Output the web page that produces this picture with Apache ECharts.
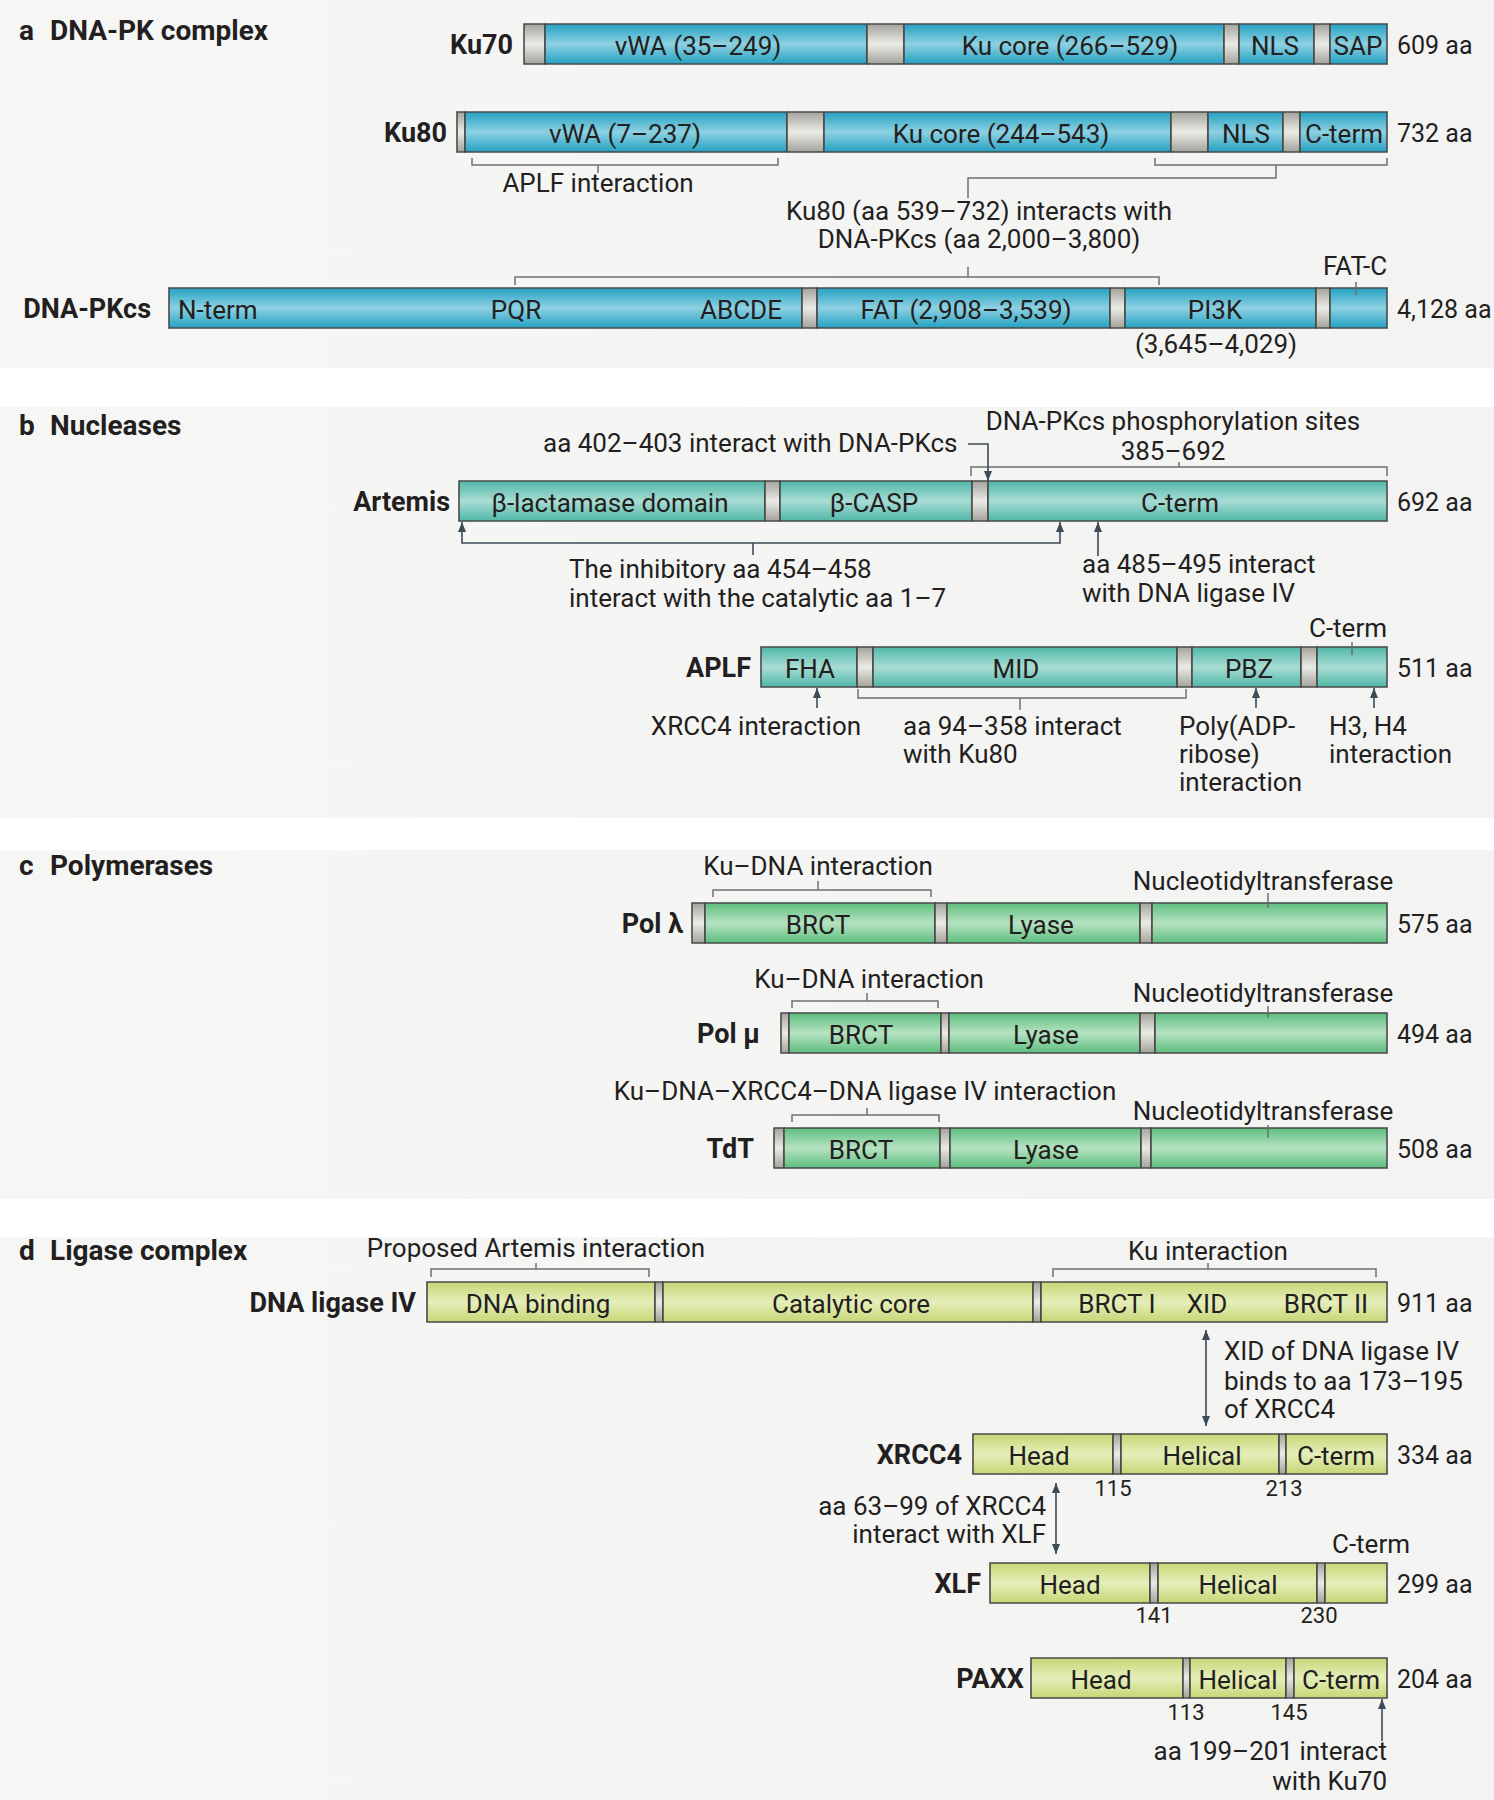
<!DOCTYPE html>
<html><head><meta charset="utf-8">
<script src="https://cdn.jsdelivr.net/npm/echarts@6/dist/echarts.min.js"></script>
<style>html,body{margin:0;padding:0;background:#fff}#c{width:1494px;height:1800px}</style>
</head><body><div id="c"></div>
<script>
// ---- Schematic units: x runs along the drawing, y down the page ----
const W = 1494, H = 1800;
const panelLetters = ['a', 'b', 'c', 'd'];
const panelTitles = ['DNA-PK complex', 'Nucleases', 'Polymerases', 'Ligase complex'];
const panelTitleBaseline = [40, 435, 875, 1260];
const panelBands = [[0, 368], [407, 818], [850, 1199], [1237, 1800]];

const proteinNames = ['Ku70', 'Ku80', 'DNA-PKcs', 'Artemis', 'APLF', 'Pol λ', 'Pol μ', 'TdT', 'DNA ligase IV', 'XRCC4', 'XLF', 'PAXX'];
const proteinLengths = ['609 aa', '732 aa', '4,128 aa', '692 aa', '511 aa', '575 aa', '494 aa', '508 aa', '911 aa', '334 aa', '299 aa', '204 aa'];
const rowFamily = ['ku', 'ku', 'ku', 'nuc', 'nuc', 'pol', 'pol', 'pol', 'lig', 'lig', 'lig', 'lig'];

// Domain boundaries along the schematic axis (L = linker, D = domain)
const segKu70 = [[524,545,'L'],[545,867,'D'],[867,904,'L'],[904,1224,'D'],[1224,1239,'L'],[1239,1314,'D'],[1314,1330,'L'],[1330,1387,'D']];
const segKu80 = [[457,465,'L'],[465,787,'D'],[787,824,'L'],[824,1171,'D'],[1171,1208,'L'],[1208,1283,'D'],[1283,1300,'L'],[1300,1387,'D']];
const segDNAPKcs = [[169,802,'D'],[802,817,'L'],[817,1110,'D'],[1110,1125,'L'],[1125,1316,'D'],[1316,1330,'L'],[1330,1387,'D']];
const segArtemis = [[459,765,'D'],[765,780,'L'],[780,972,'D'],[972,988,'L'],[988,1387,'D']];
const segAPLF = [[761,857,'D'],[857,873,'L'],[873,1177,'D'],[1177,1192,'L'],[1192,1301,'D'],[1301,1317,'L'],[1317,1387,'D']];
const segPolL = [[692,705,'L'],[705,935,'D'],[935,947,'L'],[947,1140,'D'],[1140,1152,'L'],[1152,1387,'D']];
const segPolM = [[781,789,'L'],[789,941,'D'],[941,949,'L'],[949,1140,'D'],[1140,1155,'L'],[1155,1387,'D']];
const segTdT = [[774,784,'L'],[784,940,'D'],[940,950,'L'],[950,1141,'D'],[1141,1151,'L'],[1151,1387,'D']];
const segLig4 = [[427,655,'D'],[655,663,'L'],[663,1033,'D'],[1033,1041,'L'],[1041,1387,'D']];
const segXRCC4 = [[973,1113,'D'],[1113,1121,'L'],[1121,1279,'D'],[1279,1286,'L'],[1286,1387,'D']];
const segXLF = [[990,1150,'D'],[1150,1158,'L'],[1158,1317,'D'],[1317,1325,'L'],[1325,1387,'D']];
const segPAXX = [[1031,1183,'D'],[1183,1190,'L'],[1190,1286,'D'],[1286,1294,'L'],[1294,1387,'D']];

// Domain labels
const lblKu70 = [[698,'vWA (35–249)'],[1070,'Ku core (266–529)'],[1275,'NLS'],[1358,'SAP']];
const lblKu80 = [[625,'vWA (7–237)'],[1001,'Ku core (244–543)'],[1246,'NLS'],[1344,'C-term']];
const lblDNAPKcs = [[178,'N-term','left'],[516,'PQR'],[741,'ABCDE'],[966,'FAT (2,908–3,539)'],[1215,'PI3K']];
const lblArtemis = [[610,'β-lactamase domain'],[874,'β-CASP'],[1180,'C-term']];
const lblAPLF = [[810,'FHA'],[1016,'MID'],[1249,'PBZ']];
const lblPolL = [[818,'BRCT'],[1041,'Lyase']];
const lblPolM = [[861,'BRCT'],[1046,'Lyase']];
const lblTdT = [[861,'BRCT'],[1046,'Lyase']];
const lblLig4 = [[538,'DNA binding'],[851,'Catalytic core'],[1117,'BRCT I'],[1207,'XID'],[1326,'BRCT II']];
const lblXRCC4 = [[1039,'Head'],[1202,'Helical'],[1336,'C-term']];
const lblXLF = [[1070,'Head'],[1238,'Helical']];
const lblPAXX = [[1101,'Head'],[1238,'Helical'],[1341,'C-term']];

// Annotation texts: [x, baseline, text, align, size]
const annotations = [
  [598,192,'APLF interaction','center','m'],
  [979,220,'Ku80 (aa 539–732) interacts with','center','m'],
  [979,248,'DNA-PKcs (aa 2,000–3,800)','center','m'],
  [1355,275,'FAT-C','center','m'],
  [1216,353,'(3,645–4,029)','center','m'],
  [1173,430,'DNA-PKcs phosphorylation sites','center','m'],
  [1173,460,'385–692','center','m'],
  [543,452,'aa 402–403 interact with DNA-PKcs','left','m'],
  [569,578,'The inhibitory aa 454–458','left','m'],
  [569,607,'interact with the catalytic aa 1–7','left','m'],
  [1082,573,'aa 485–495 interact','left','m'],
  [1082,602,'with DNA ligase IV','left','m'],
  [1348,637,'C-term','center','m'],
  [756,735,'XRCC4 interaction','center','m'],
  [903,735,'aa 94–358 interact','left','m'],
  [903,763,'with Ku80','left','m'],
  [1179,735,'Poly(ADP-','left','m'],
  [1179,763,'ribose)','left','m'],
  [1179,791,'interaction','left','m'],
  [1329,735,'H3, H4','left','m'],
  [1329,763,'interaction','left','m'],
  [818,875,'Ku–DNA interaction','center','m'],
  [1263,890,'Nucleotidyltransferase','center','m'],
  [869,988,'Ku–DNA interaction','center','m'],
  [1263,1002,'Nucleotidyltransferase','center','m'],
  [865,1100,'Ku–DNA–XRCC4–DNA ligase IV interaction','center','m'],
  [1263,1120,'Nucleotidyltransferase','center','m'],
  [536,1257,'Proposed Artemis interaction','center','m'],
  [1208,1260,'Ku interaction','center','m'],
  [1224,1360,'XID of DNA ligase IV','left','m'],
  [1224,1390,'binds to aa 173–195','left','m'],
  [1224,1418,'of XRCC4','left','m'],
  [1113,1496,'115','center','s'],
  [1284,1496,'213','center','s'],
  [1046,1515,'aa 63–99 of XRCC4','right','m'],
  [1046,1543,'interact with XLF','right','m'],
  [1371,1553,'C-term','center','m'],
  [1154,1623,'141','center','s'],
  [1319,1623,'230','center','s'],
  [1186,1720,'113','center','s'],
  [1289,1720,'145','center','s'],
  [1387,1760,'aa 199–201 interact','right','m'],
  [1387,1790,'with Ku70','right','m']
];

// Brackets (grey) and arrows (dark)
const bracketLines = [
  [[472,158],[472,165],[778,165],[778,158]], [[598,165],[598,173]],
  [[1155,158],[1155,165],[1387,165],[1387,158]], [[1276,165],[1276,178],[968,178],[968,198]],
  [[515,285],[515,277],[1159,277],[1159,285]], [[968,267],[968,277]],
  [[1356,282],[1356,295]],
  [[971,476],[971,467],[1387,467],[1387,476]], [[1179,467],[1179,462]],
  [[858,689],[858,698],[1186,698],[1186,689]], [[1020,698],[1020,710]],
  [[1352,642],[1352,655]],
  [[713,897],[713,890],[931,890],[931,897]], [[818,890],[818,881]], [[1268,893],[1268,908]],
  [[792,1008],[792,1001],[938,1001],[938,1008]], [[867,1001],[867,993]], [[1268,1006],[1268,1018]],
  [[792,1122],[792,1115],[939,1115],[939,1122]], [[867,1115],[867,1108]], [[1268,1125],[1268,1138]],
  [[431,1277],[431,1269],[649,1269],[649,1277]], [[536,1269],[536,1263]],
  [[1053,1277],[1053,1269],[1376,1269],[1376,1277]], [[1208,1269],[1208,1263]]
];
const arrowLines = [
  [[[968,444],[988,444],[988,481]],0,1],
  [[[462,522],[462,543],[1060,543],[1060,522]],1,1],
  [[[753,543],[753,555]],0,0],
  [[[1098,556],[1098,522]],0,1],
  [[[817,708],[817,688]],0,1],
  [[[1256,708],[1256,688]],0,1],
  [[[1374,708],[1374,688]],0,1],
  [[[1206,1330],[1206,1426]],1,1],
  [[[1056,1483],[1056,1554]],1,1],
  [[[1382,1741],[1382,1699]],0,1]
];

// ---- layout (not data) ----
const rowTop = [24,112,288,481,647,903,1013,1128,1282,1434,1563,1658];
const rowH = 40;
const nameRight = [513,447,151,450,751,683,760,754,416,962,981,1024];
const lengthLeft = 1397;
const proteinSegments = [segKu70,segKu80,segDNAPKcs,segArtemis,segAPLF,segPolL,segPolM,segTdT,segLig4,segXRCC4,segXLF,segPAXX];
const proteinLabels = [lblKu70,lblKu80,lblDNAPKcs,lblArtemis,lblAPLF,lblPolL,lblPolM,lblTdT,lblLig4,lblXRCC4,lblXLF,lblPAXX];

const FAM = 'Roboto, "Noto Sans", "DejaVu Sans", sans-serif';
const fsize = {t: 28, n: 27, m: 26, l: 25, s: 22};
const fonts = {t: 'bold 28px ' + FAM, n: 'bold 27px ' + FAM, m: '26px ' + FAM, l: '25px ' + FAM, s: '22px ' + FAM};
const familyColors = {ku: ['#23a1c2', '#8ed1e2'], nuc: ['#4fb7a7', '#a9dcd4'], pol: ['#5dbe7e', '#b6e2c2'], lig: ['#c7d674', '#e6eebb']};
const linkerColors = ['#a3a39c', '#ebebe5'];
const TEXT = '#231f20';

// bars data
const barData = [];
proteinSegments.forEach((segs, r) => segs.forEach(s => barData.push([s[0], s[1], r, s[2] === 'L' ? 1 : 0])));

// texts
const texts = []; // [x, yMid, text, align, fontKey]
const mid = (bl, k) => bl - 0.34 * fsize[k];
panelLetters.forEach((l, i) => {
  texts.push([19, mid(panelTitleBaseline[i], 't'), l, 'left', 't']);
  texts.push([50, mid(panelTitleBaseline[i], 't'), panelTitles[i], 'left', 't']);
});
proteinNames.forEach((n, r) => {
  const yc = rowTop[r] + rowH / 2 + 1;
  texts.push([nameRight[r], yc, n, 'right', 'n']);
  texts.push([lengthLeft, yc, proteinLengths[r], 'left', 'l']);
  proteinLabels[r].forEach(l => texts.push([l[0], yc + 1, l[1], l[2] || 'center', 'm']));
});
annotations.forEach(a => texts.push([a[0], mid(a[1], a[4]), a[2], a[3], a[4]]));

const chart = echarts.init(document.getElementById('c'), null, {renderer: 'svg', width: W, height: H});

function poly(api, pts) { return pts.map(p => api.coord(p)); }
function head(tip, from) {
  const dx = tip[0] - from[0], dy = tip[1] - from[1], L = Math.hypot(dx, dy) || 1;
  const ux = dx / L, uy = dy / L, len = 10, hw = 4;
  const bx = tip[0] - ux * len, by = tip[1] - uy * len;
  return [[tip[0], tip[1]], [bx - uy * hw, by + ux * hw], [bx + uy * hw, by - ux * hw]];
}

chart.setOption({
  animation: false,
  backgroundColor: '#ffffff',
  grid: {left: 0, right: 0, top: 0, bottom: 0},
  xAxis: {type: 'value', min: 0, max: W, show: false},
  yAxis: {type: 'value', min: 0, max: H, inverse: true, show: false},
  series: [
    { // panel backgrounds
      type: 'custom', silent: true, z: 1, clip: false,
      data: panelBands.map(b => [0, b[0], W, b[1]]),
      renderItem: (p, api) => {
        const a = api.coord([api.value(0), api.value(1)]), b = api.coord([api.value(2), api.value(3)]);
        return {type: 'rect', shape: {x: a[0], y: a[1], width: b[0] - a[0], height: b[1] - a[1]},
          style: {fill: new echarts.graphic.LinearGradient(0, 0, 1, 0, [{offset: 0, color: '#f6f6f5'}, {offset: 1, color: '#f3f3f2'}])}};
      }
    },
    { // protein bars
      type: 'custom', silent: true, z: 2, clip: false,
      data: barData,
      renderItem: (p, api) => {
        const r = api.value(2), lk = api.value(3);
        const a = api.coord([api.value(0), rowTop[r]]), b = api.coord([api.value(1), rowTop[r] + rowH]);
        const c = lk ? linkerColors : familyColors[rowFamily[r]];
        return {type: 'rect', shape: {x: a[0], y: a[1], width: b[0] - a[0], height: b[1] - a[1]},
          style: {fill: new echarts.graphic.LinearGradient(0, 0, 0, 1, [
            {offset: 0, color: c[0]}, {offset: 0.5, color: c[1]}, {offset: 1, color: c[0]}]),
            stroke: '#4a4a4a', lineWidth: 1.6}};
      }
    },
    { // brackets
      type: 'custom', silent: true, z: 3, clip: false,
      data: bracketLines.map(l => l[0]),
      renderItem: (p, api) => ({type: 'polyline', shape: {points: poly(api, bracketLines[p.dataIndex])},
        style: {stroke: '#6f6f6f', lineWidth: 1.5, fill: null}})
    },
    { // arrows
      type: 'custom', silent: true, z: 4, clip: false,
      data: arrowLines.map(l => l[0][0]),
      renderItem: (p, api) => {
        const al = arrowLines[p.dataIndex];
        const pts = poly(api, al[0]);
        const ch = [{type: 'polyline', shape: {points: pts}, style: {stroke: '#3b4b57', lineWidth: 1.6, fill: null}}];
        if (al[1]) ch.push({type: 'polygon', shape: {points: head(pts[0], pts[1])}, style: {fill: '#3b4b57'}});
        if (al[2]) ch.push({type: 'polygon', shape: {points: head(pts[pts.length - 1], pts[pts.length - 2])}, style: {fill: '#3b4b57'}});
        return {type: 'group', children: ch};
      }
    },
    { // texts
      type: 'custom', silent: true, z: 5, clip: false,
      data: texts.map(t => [t[0], t[1]]),
      renderItem: (p, api) => {
        const t = texts[p.dataIndex];
        const c = api.coord([t[0], t[1]]);
        return {type: 'text', x: c[0], y: c[1],
          style: {text: t[2], fill: TEXT, font: fonts[t[4]], textAlign: t[3], textVerticalAlign: 'middle'}};
      }
    }
  ]
});
</script></body></html>
